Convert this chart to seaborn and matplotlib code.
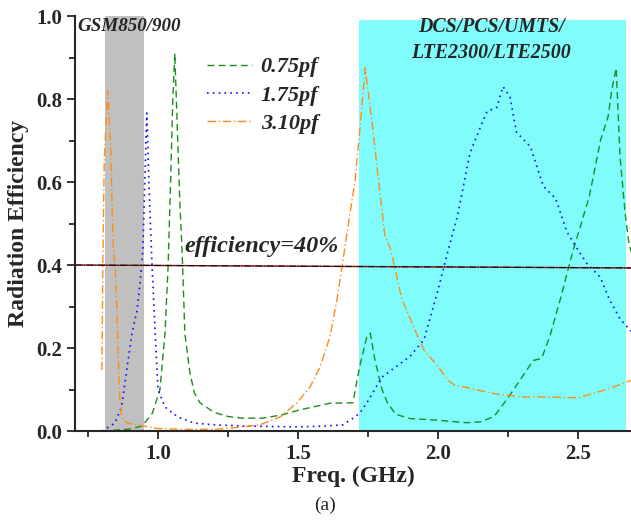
import matplotlib
matplotlib.use("Agg")
import matplotlib.pyplot as plt
import seaborn as sns

# 0.75pf (green, dashed)
f075_x = [0.80, 0.85, 0.90, 0.943, 0.98, 1.007, 1.025, 1.036, 1.045, 1.053, 1.06,
          1.068, 1.078, 1.086, 1.096, 1.114, 1.13, 1.15, 1.2, 1.25, 1.3, 1.375,
          1.45, 1.5, 1.614, 1.696, 1.72, 1.745, 1.758, 1.775, 1.80, 1.82, 1.85,
          1.9, 2.0, 2.1, 2.15, 2.2, 2.25, 2.3, 2.34, 2.37, 2.4, 2.436, 2.48,
          2.54, 2.58, 2.607, 2.62, 2.636, 2.65, 2.668, 2.68, 2.69]
f075_y = [0.0, 0.002, 0.005, 0.012, 0.043, 0.10, 0.235, 0.395, 0.60, 0.80, 0.91,
          0.75, 0.55, 0.436, 0.235, 0.14, 0.092, 0.068, 0.045, 0.035, 0.031, 0.031,
          0.04, 0.05, 0.067, 0.068, 0.155, 0.225, 0.236, 0.17, 0.10, 0.067, 0.04,
          0.03, 0.026, 0.02, 0.022, 0.035, 0.08, 0.13, 0.17, 0.175, 0.23, 0.316, 0.43,
          0.565, 0.70, 0.757, 0.82, 0.875, 0.66, 0.525, 0.46, 0.43]

# 1.75pf (blue, dotted)
f175_x = [0.80, 0.846, 0.87, 0.89, 0.907, 0.925, 0.936, 0.946, 0.955, 0.96, 0.97,
          0.979, 0.99, 1.0, 1.025, 1.07, 1.13, 1.2, 1.3, 1.5, 1.6, 1.66, 1.704,
          1.72, 1.745, 1.8, 1.85, 1.9, 1.95, 2.0, 2.03, 2.07, 2.114, 2.15, 2.175,
          2.21, 2.232, 2.257, 2.28, 2.33, 2.376, 2.42, 2.46, 2.5, 2.53, 2.58,
          2.61, 2.65, 2.69]
f175_y = [0.0, 0.019, 0.058, 0.155, 0.235, 0.29, 0.356, 0.436, 0.65, 0.766, 0.55,
          0.395, 0.235, 0.10, 0.058, 0.034, 0.019, 0.015, 0.012, 0.01, 0.012, 0.015, 0.034,
          0.043, 0.067, 0.13, 0.155, 0.18, 0.22, 0.34, 0.42, 0.52, 0.67, 0.73, 0.77,
          0.78, 0.83, 0.805, 0.72, 0.685, 0.59, 0.56, 0.48, 0.436, 0.405, 0.37,
          0.32, 0.27, 0.24]

# 3.10pf (orange, dash-dot)
f310_x = [0.80, 0.803, 0.808, 0.82, 0.83, 0.84, 0.85, 0.857, 0.864, 0.87, 0.89,
          0.95, 1.0, 1.1, 1.2, 1.26, 1.364, 1.436, 1.495, 1.543, 1.579, 1.614,
          1.639, 1.657, 1.68, 1.704, 1.72, 1.74, 1.765, 1.81, 1.83, 1.87, 1.92,
          1.95, 2.0, 2.04, 2.06, 2.1, 2.2, 2.3, 2.4, 2.5, 2.55, 2.6, 2.69]
f310_y = [0.147, 0.40, 0.65, 0.82, 0.70, 0.45, 0.36, 0.20, 0.075, 0.034, 0.019,
          0.012, 0.006, 0.004, 0.004, 0.007, 0.015, 0.034, 0.067, 0.106, 0.155, 0.227,
          0.316, 0.395, 0.50, 0.605, 0.72, 0.875, 0.74, 0.47, 0.44, 0.32, 0.24,
          0.195, 0.155, 0.12, 0.11, 0.105, 0.09, 0.082, 0.082, 0.08, 0.09, 0.10, 0.122]

# 40% reference line and shaded bands
eff_x = [0.704, 2.689]
eff_y = [0.400, 0.393]
gsm_band = (0.811, 0.950)
dcs_band = (1.718, 2.671)

sns.set_style("ticks")
plt.rcParams['font.family'] = ['Liberation Serif', 'DejaVu Serif']

fig = plt.figure(figsize=(6.31, 5.21), dpi=100)
ax = fig.add_axes([0.119, 0.1727, 0.881, 0.7965])

ax.axvspan(*gsm_band, ymin=0, ymax=1.0, color='#c0c0c0', lw=0, zorder=0)
ax.axvspan(*dcs_band, ymin=0, ymax=0.99, color='#80fcfc', lw=0, zorder=0)

sns.lineplot(x=f075_x, y=f075_y, ax=ax, color='#1e8c1e', lw=1.0,
             linestyle=(0, (5, 3)), label='0.75pf')
sns.lineplot(x=f175_x, y=f175_y, ax=ax, color='#1010ff', lw=1.2,
             linestyle=(0, (1, 2.5)), label='1.75pf')
sns.lineplot(x=f310_x, y=f310_y, ax=ax, color='#ff8c1a', lw=1.0,
             linestyle=(0, (6, 2, 1, 2)), label='3.10pf')
ax.plot(eff_x, eff_y, color='#c02020', lw=1.0, zorder=3)
ax.plot(eff_x, eff_y, color='#101010', lw=0.9, linestyle=(0, (6, 1, 1, 1)), zorder=4)

ax.set_xlim(0.704, 2.689)
ax.set_ylim(0, 1.0)
ax.set_xticks([1.0, 1.5, 2.0, 2.5])
ax.set_xticks([0.75, 1.25, 1.75, 2.25], minor=True)
ax.set_yticks([0.0, 0.2, 0.4, 0.6, 0.8, 1.0])
ax.set_yticks([0.1, 0.3, 0.5, 0.7, 0.9], minor=True)
ax.tick_params(axis='both', which='major', direction='out', length=6, width=1.3,
               labelsize=15)
ax.tick_params(axis='both', which='minor', direction='out', length=4, width=1.3)
for lab in ax.get_xticklabels() + ax.get_yticklabels():
    lab.set_fontweight('bold')
ax.xaxis.set_major_formatter(matplotlib.ticker.FormatStrFormatter('%.1f'))
ax.yaxis.set_major_formatter(matplotlib.ticker.FormatStrFormatter('%.1f'))

for side in ['top', 'right']:
    ax.spines[side].set_visible(False)
for side in ['left', 'bottom']:
    ax.spines[side].set_linewidth(1.5)

ax.set_xlabel('Freq. (GHz)', fontsize=17, fontweight='bold', labelpad=1)
ax.set_ylabel('Radiation Efficiency', fontsize=17, fontweight='bold', labelpad=5)

ax.legend(loc='upper left', bbox_to_anchor=(0.202, 0.95), frameon=False,
          handlelength=2.0, handletextpad=0.4, labelspacing=0.35,
          prop={'size': 16, 'weight': 'bold', 'style': 'italic'})

ax.text(0.712, 0.975, 'GSM850/900', fontsize=13.7, fontweight='bold',
        fontstyle='italic', va='center', ha='left')
ax.text(2.19, 0.942, 'DCS/PCS/UMTS/\nLTE2300/LTE2500', fontsize=14.3,
        fontweight='bold', fontstyle='italic', ha='center', va='center',
        linespacing=1.45)
ax.text(1.096, 0.42, 'efficiency=40%', fontsize=17.4, fontweight='bold',
        fontstyle='italic', ha='left', va='bottom')

fig.text(0.515, 0.03, '(a)', fontsize=14, ha='center', va='center')

fig.savefig('out.png', dpi=100)
